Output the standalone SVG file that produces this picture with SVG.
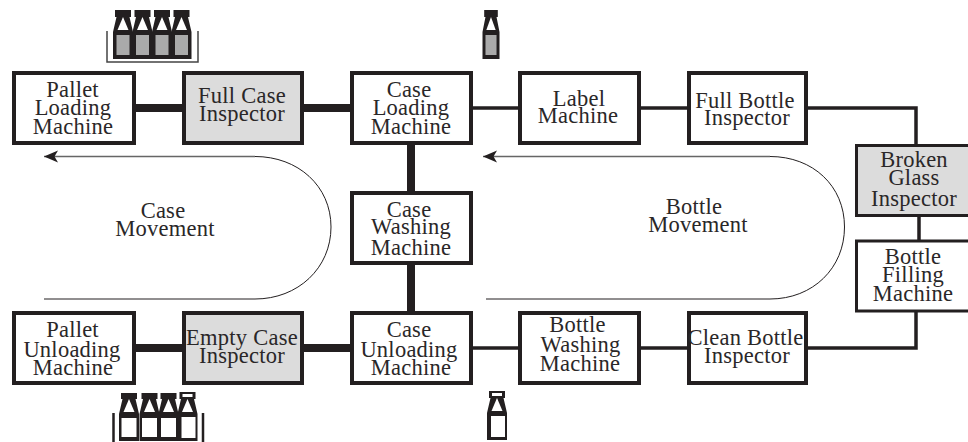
<svg xmlns="http://www.w3.org/2000/svg" width="968" height="442" viewBox="0 0 968 442">
<style>
text{font-family:"Liberation Serif","Times New Roman",serif;font-size:22.5px;fill:#2a2728;text-anchor:middle;font-weight:400;letter-spacing:.25px}
.box{fill:#fff;stroke:#231f20;stroke-width:4}
.grey{fill:#dcdcdc}
.side{stroke-width:3}
.thick{fill:none;stroke:#231f20;stroke-width:8}
.thin{fill:none;stroke:#231f20;stroke-width:3.5}
.flow{fill:none;stroke:#231f20;stroke-width:1}
.straight{fill:none;stroke:#666;stroke-width:1.300}
.dark{fill:#231f20}
.white{fill:#fff}
.tray{fill:none;stroke:#444;stroke-width:1.5}
</style>
<defs>
<marker id="arrow" markerUnits="userSpaceOnUse" markerWidth="16" markerHeight="14" refX="15" refY="7" orient="auto"><path d="M15 7L1 1L4.500 7L1 13Z" fill="#231f20"/></marker>
<g id="bottle"><path class="dark" d="M-8 -49H8V-42H6.500L10 -27V0H-10V-27L-6.500 -42H-8Z"/><path class="white" d="M0 -42L-5.500 -29H5.500Z"/><rect x="-6.500" y="-24" width="13" height="20" fill="#aaa"/></g>
<g id="ebottle"><path class="dark" d="M-8 -48H8V-42H6.500L10 -27V0H-10V-27L-6.500 -42H-8Z"/><path class="white" d="M0 -42L-5.500 -29H5.500Z"/><rect class="white" x="-7.500" y="-23" width="15" height="19"/></g>
<g id="obottle"><path class="dark" d="M-8 -49H8V-42H6.500L10 -27V0H-10V-27L-6.500 -42H-8Z"/><rect class="white" x="-5" y="-47" width="10" height="3"/><path class="white" d="M0 -42L-5.500 -29H5.500Z"/><rect class="white" x="-6" y="-24" width="14" height="21"/></g>
</defs>
<g id="connectors">
<path class="thick" d="M136 108H182M304 108H350M136 348H182M304 348H350M411 145V191M411 265V311"/>
<path class="thin" d="M473 108H518M641 108H687M808 108H916V144M919 216V240M916 312V348H808M687 348H641M518 348H473"/>
<path class="straight" d="M255 156.500H44" marker-end="url(#arrow)"/>
<path class="flow" d="M255 156.500C298 156.500 331 186 331 227C331 268 298 299 255 299H44"/>
<path class="straight" d="M770 156.500H483" marker-end="url(#arrow)"/>
<path class="flow" d="M770 156.500C813 156.500 844.500 186 844.500 227C844.500 268 813 299 770 299H486"/>
</g>
<g id="pallet-loading"><rect class="box" x="14" y="73" width="120" height="70"/><text x="72.500" y="97">Pallet</text><text x="73" y="115">Loading</text><text x="73" y="134">Machine</text></g>
<g id="full-case"><rect class="box grey" x="184" y="73" width="118" height="70"/><text x="242" y="103">Full Case</text><text x="242" y="121">Inspector</text></g>
<g id="case-loading"><rect class="box" x="352" y="73" width="119" height="70"/><text x="409" y="97">Case</text><text x="411" y="115">Loading</text><text x="411" y="134">Machine</text></g>
<g id="label-machine"><rect class="box" x="520" y="73" width="119" height="70"/><text x="579" y="106">Label</text><text x="578" y="123">Machine</text></g>
<g id="full-bottle"><rect class="box" x="689" y="73" width="117" height="70"/><text x="745" y="108">Full Bottle</text><text x="747" y="125">Inspector</text></g>
<g id="broken-glass"><rect class="box grey side" x="856.500" y="145.500" width="120" height="70"/><text x="914" y="167">Broken</text><text x="914" y="185">Glass</text><text x="914" y="206">Inspector</text></g>
<g id="bottle-filling"><rect class="box side" x="856.500" y="241" width="120" height="70"/><text x="913" y="264">Bottle</text><text x="913" y="282">Filling</text><text x="913" y="301">Machine</text></g>
<g id="case-washing"><rect class="box" x="352" y="193" width="119" height="70"/><text x="409" y="217">Case</text><text x="411" y="234">Washing</text><text x="411" y="255">Machine</text></g>
<g id="pallet-unloading"><rect class="box" x="14" y="313" width="120" height="70"/><text x="72.500" y="337">Pallet</text><text x="72" y="357">Unloading</text><text x="73" y="375">Machine</text></g>
<g id="empty-case"><rect class="box grey" x="184" y="313" width="118" height="70"/><text x="242" y="345">Empty Case</text><text x="242" y="363">Inspector</text></g>
<g id="case-unloading"><rect class="box" x="352" y="313" width="119" height="70"/><text x="409" y="337">Case</text><text x="409" y="357">Unloading</text><text x="411" y="375">Machine</text></g>
<g id="bottle-washing"><rect class="box" x="520" y="313" width="119" height="70"/><text x="577.500" y="332">Bottle</text><text x="580.500" y="352">Washing</text><text x="580" y="371">Machine</text></g>
<g id="clean-bottle"><rect class="box" x="689" y="313" width="117" height="70"/><text x="745.500" y="345">Clean Bottle</text><text x="747" y="363">Inspector</text></g>
<g id="case-movement"><text x="163" y="218">Case</text><text x="165" y="236">Movement</text></g>
<g id="bottle-movement"><text x="694" y="214">Bottle</text><text x="698" y="232">Movement</text></g>
<g id="bottles-top">
<path class="tray" d="M107 31V62H198V31"/>
<use href="#bottle" x="123" y="59"/><use href="#bottle" x="142.500" y="59"/><use href="#bottle" x="162" y="59"/><use href="#bottle" x="181.500" y="59"/>
<use href="#bottle" transform="translate(491 59) scale(.85 1)"/>
</g>
<g id="bottles-bottom">
<path d="M113.500 413V442M203 413V442" stroke="#231f20" stroke-width="2.500" fill="none"/>
<use href="#ebottle" x="129" y="441"/><use href="#ebottle" x="149.500" y="441"/><use href="#ebottle" x="168.500" y="441"/><use href="#obottle" x="187.500" y="441"/>
<use href="#obottle" x="497" y="440"/>
</g>
</svg>
